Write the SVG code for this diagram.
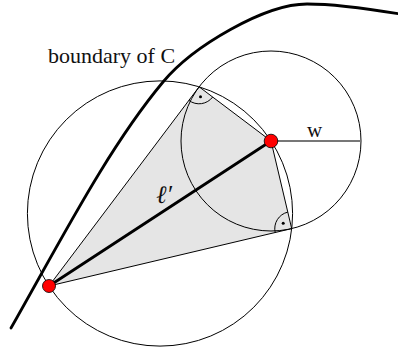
<svg xmlns="http://www.w3.org/2000/svg" width="398" height="353" viewBox="0 0 398 353">
<style>
.thin{fill:none;stroke:#000;stroke-width:1}
.thick{fill:none;stroke:#000;stroke-width:2.8;stroke-linecap:round}
.pt{fill:#ff0000;stroke:#000;stroke-width:0.8}
.lbl{font-family:"Liberation Serif","DejaVu Serif",serif;fill:#111}
</style>
<rect width="398" height="353" fill="#fff"/>
<g id="region">
<polygon points="49,286 199.1,86.8 271,141 291.7,228.6" fill="#e5e5e5" stroke="none"/>
</g>
<g id="circles">
<circle id="thales-circle" cx="160" cy="213.5" r="132.6" class="thin"/>
<circle id="w-circle" cx="271" cy="141" r="90" class="thin"/>
</g>
<g id="connectors">
<path class="thin" d="M49,286 L199.1,86.8 L271,141 L291.7,228.6 Z"/>
<line x1="271" y1="141" x2="361" y2="141" stroke="#777" stroke-width="1.8"/>
<path class="thin" d="M212.7,97 A17,17 0 0 1 188.9,100.4"/>
<circle cx="200.5" cy="96.7" r="1.5" fill="#000"/>
<path class="thin" d="M275.2,232.5 A17,17 0 0 1 287.8,212.1"/>
<circle cx="283.2" cy="223.3" r="1.5" fill="#000"/>
<path id="boundary" class="thick" d="M11,328 C61,240 108,148 163,82 C193,46 265,4 307,4 C330,4 370,9 400,14"/>
<line id="l-prime" class="thick" x1="49" y1="286" x2="271" y2="141"/>
</g>
<g id="P1"><circle class="pt" cx="49" cy="286" r="6.5"/></g>
<g id="P2"><circle class="pt" cx="271" cy="141" r="6.8"/></g>
<g id="labels">
<text class="lbl" x="48" y="63" font-size="22">boundary of C</text>
<text class="lbl" x="307" y="137" font-size="21">w</text>
<text class="lbl" x="156" y="203" font-size="25" font-style="italic" font-weight="normal">ℓ′</text>
</g>
</svg>
